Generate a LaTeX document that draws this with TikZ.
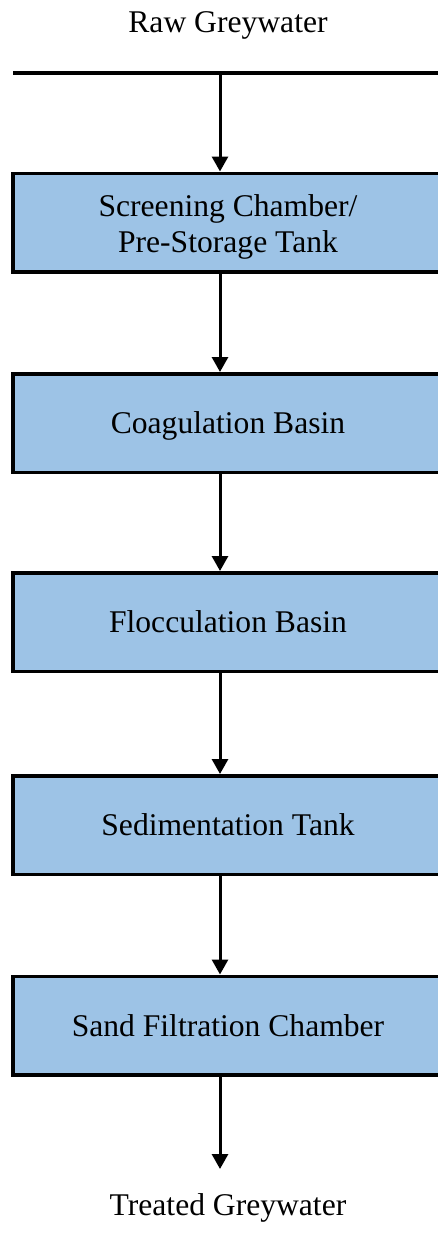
\documentclass[tikz,border=0pt]{standalone}
\usepackage{fontspec}
\setmainfont{Liberation Serif}
\usetikzlibrary{arrows.meta}
\definecolor{boxblue}{HTML}{9DC3E6}
\begin{document}
\begin{tikzpicture}[x=1pt,y=-1pt,
  stage/.style={draw=black, line width=3.5pt, fill=boxblue,
    minimum width=430pt, minimum height=98.5pt, inner sep=0pt,
    align=center, font=\fontsize{31.6}{35.6}\selectfont},
  oneline/.style={text height=21pt, text depth=0pt},
  flow/.style={-{Triangle[width=16pt,length=15pt]}, line width=3pt},
  lbl/.style={font=\fontsize{31.6}{35.6}\selectfont, inner sep=0pt}]
\useasboundingbox (0,0) rectangle (437,1247);
\coordinate (xa) at (220,0);
\node[lbl, anchor=base] (raw) at (228,33) {Raw Greywater};
\coordinate (lineL) at (13,73);
\coordinate (lineR) at (440,73);
\draw[line width=4pt] (lineL) -- (lineR);
\coordinate (top) at (220,73);
\node[stage] (b1) at (228,222.5) {\raisebox{-4.9pt}[\height][\depth]{\begin{tabular}{@{}c@{}}Screening Chamber/\\Pre-Storage Tank\end{tabular}}};
\node[stage, oneline] (b2) at (228,423) {Coagulation Basin};
\node[stage, oneline] (b3) at (228,622) {Flocculation Basin};
\node[stage, oneline] (b4) at (228,825) {Sedimentation Tank};
\node[stage, oneline] (b5) at (228,1025.5) {Sand Filtration Chamber};
\coordinate (end) at (220,1169);
\node[lbl, anchor=base] (treated) at (228,1215) {Treated Greywater};
\draw[flow] (top) -- (b1.north -| xa);
\draw[flow] (b1.south -| xa) -- (b2.north -| xa);
\draw[flow] (b2.south -| xa) -- (b3.north -| xa);
\draw[flow] (b3.south -| xa) -- (b4.north -| xa);
\draw[flow] (b4.south -| xa) -- (b5.north -| xa);
\draw[flow] (b5.south -| xa) -- (end);
\end{tikzpicture}
\end{document}
